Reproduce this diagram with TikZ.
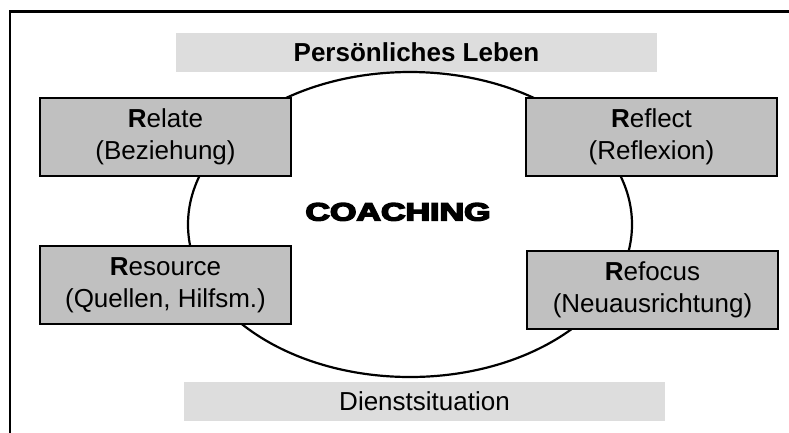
\documentclass[tikz,border=0pt]{standalone}
\usepackage{fontspec}
\setmainfont{Liberation Sans}
\newfontfamily\heavyfont{Liberation Sans}[UprightFont={* Bold}, UprightFeatures={FakeBold=5.5}]
\usetikzlibrary{shapes.geometric}
\definecolor{boxgray}{HTML}{C0C0C0}
\definecolor{bandgray}{HTML}{DDDDDD}
\tikzset{
  rbox/.style={draw=black, line width=2.2pt, fill=boxgray, minimum width=251pt, minimum height=78pt,
    inner sep=0pt, align=center, font=\fontsize{26}{32}\selectfont},
  band/.style={fill=bandgray, minimum width=481pt, minimum height=39pt, inner sep=0pt,
    font=\fontsize{26}{31}\selectfont},
}
\begin{document}
\begin{tikzpicture}[x=1pt,y=-1pt]
\useasboundingbox (0,0) rectangle (789,432);
% frame (only top and left edges visible)
\draw[line width=2.5pt] (10,433) -- (10,11.5) -- (790,11.5);
% bands
\node[band] (top) at (416.5,52.5) {\textbf{Persönliches Leben}};
\node[band] (bottom) at (424.5,401.5) {Dienstsituation};
% ellipse
\node[draw, ellipse, line width=2.2pt, minimum width=444pt, minimum height=305pt, inner sep=0pt] (ring) at (410,224.5) {};
% coaching label
\node[inner sep=0pt, anchor=base] (coach) at (398,220.5)
  {\scalebox{1.36}[1]{\fontsize{25}{28}\heavyfont COACHING}};
% boxes
\node[rbox] (relate) at (165.5,137) {\textbf{R}elate\\(Beziehung)};
\node[rbox] (reflect) at (651.5,137) {\textbf{R}eflect\\(Reflexion)};
\node[rbox] (resource) at (165.5,285) {\textbf{R}esource\\(Quellen, Hilfsm.)};
\node[rbox] (refocus) at (652.5,290) {\textbf{R}efocus\\(Neuausrichtung)};
\end{tikzpicture}
\end{document}
